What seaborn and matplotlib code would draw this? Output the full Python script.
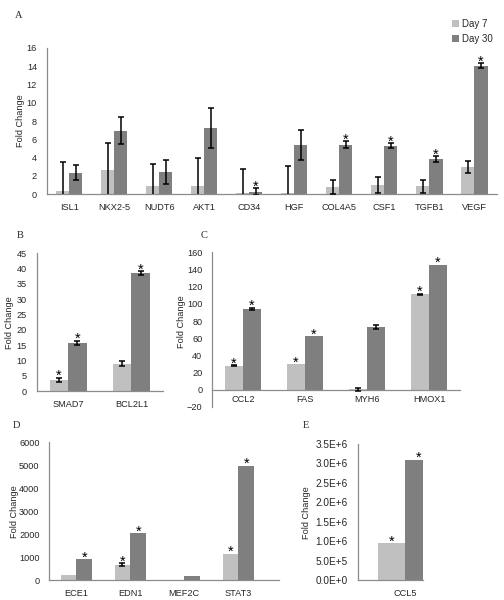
import numpy as np
import pandas as pd
import matplotlib
matplotlib.use("Agg")
import matplotlib.pyplot as plt
import seaborn as sns

# ---------------- data ----------------
days = ["Day 7", "Day 30"]

A_genes = ["ISL1", "NKX2-5", "NUDT6", "AKT1", "CD34", "HGF", "COL4A5", "CSF1", "TGFB1", "VEGF"]
A_d7 = [0.4, 2.6, 0.87, 0.87, 0.15, 0.1, 0.76, 1.02, 0.87, 2.98]
A_d7_err = [3.1, 2.95, 2.4, 3.1, 2.6, 3.0, 0.77, 0.85, 0.7, 0.7]
A_d30 = [2.36, 6.94, 2.4, 7.27, 0.3, 5.42, 5.42, 5.31, 3.82, 14.04]
A_d30_err = [0.8, 1.5, 1.3, 2.2, 0.35, 1.65, 0.35, 0.25, 0.33, 0.25]
A_d7_sig = [0, 0, 0, 0, 0, 0, 0, 0, 0, 0]
A_d30_sig = [0, 0, 0, 0, 1, 0, 1, 1, 1, 1]

B_genes = ["SMAD7", "BCL2L1"]
B_d7 = [3.7, 9.0]
B_d7_err = [0.8, 0.9]
B_d30 = [15.8, 38.6]
B_d30_err = [0.6, 0.6]
B_d7_sig = [1, 0]
B_d30_sig = [1, 1]

C_genes = ["CCL2", "FAS", "MYH6", "HMOX1"]
C_d7 = [27.9, 29.9, 0.5, 111.3]
C_d7_err = [0.6, 0.0, 1.5, 0.5]
C_d30 = [94.2, 62.4, 73.0, 145.3]
C_d30_err = [1.5, 0.0, 2.0, 0.0]
C_d7_sig = [1, 1, 0, 1]
C_d30_sig = [1, 1, 0, 1]

D_genes = ["ECE1", "EDN1", "MEF2C", "STAT3"]
D_d7 = [230, 678, 5, 1143]
D_d7_err = [0, 60, 0, 0]
D_d30 = [913, 2043, 187, 4970]
D_d30_err = [0, 0, 0, 0]
D_d7_sig = [0, 1, 0, 1]
D_d30_sig = [1, 1, 0, 1]

E_genes = ["CCL5"]
E_d7 = [0.95e6]
E_d7_err = [0]
E_d30 = [3.09e6]
E_d30_err = [0]
E_d7_sig = [1]
E_d30_sig = [1]
E_yticks = [0, 0.5e6, 1.0e6, 1.5e6, 2.0e6, 2.5e6, 3.0e6, 3.5e6]
E_yticklabels = ["0.0E+0", "5.0E+5", "1.0E+6", "1.5E+6", "2.0E+6", "2.5E+6", "3.0E+6", "3.5E+6"]

# ---------------- style ----------------
sns.set_style("white")
plt.rcParams["font.family"] = ["Liberation Sans", "DejaVu Sans"]
LIGHT = "#c0c0c0"
DARK = "#7f7f7f"
SPINE = "#8c8c8c"
TXT = "#262626"
TICK_FS = 6.6
LAB_FS = 6.6

fig = plt.figure(figsize=(5.04, 6.0), dpi=100)
W, H = 504.0, 600.0


def make_ax(left, right, top, bottom):
    return fig.add_axes([left / W, 1 - bottom / H, (right - left) / W, (bottom - top) / H])


def panel(ax, genes, d7, d7e, d30, d30e, s7, s30, width=0.58, legend=False,
          zero_spine=False, tick_fs=TICK_FS):
    df = pd.DataFrame({
        "gene": genes * 2,
        "val": list(d7) + list(d30),
        "day": [days[0]] * len(genes) + [days[1]] * len(genes),
    })
    sns.barplot(data=df, x="gene", y="val", hue="day", order=genes, hue_order=days,
                palette=[LIGHT, DARK], width=width, errorbar=None, gap=0,
                saturation=1, ax=ax, legend=legend, linewidth=0)
    if zero_spine:
        ax.spines["bottom"].set_position(("data", 0))
    for cont, errs, sigs in zip(ax.containers, [d7e, d30e], [s7, s30]):
        for bar, e, s in zip(cont, errs, sigs):
            xc = bar.get_x() + bar.get_width() / 2
            h = bar.get_height()
            if e > 0:
                ax.errorbar([xc], [h], yerr=[e], fmt="none", ecolor="black",
                            elinewidth=1.1, capsize=2.3, capthick=1.1, zorder=5)
            if s:
                ax.annotate("*", (xc, h + e), xytext=(0, -1.6), textcoords="offset points",
                            ha="center", va="baseline", fontsize=10.5, color="black", zorder=6)
    n = len(genes)
    ax.set_xlim(-0.5, n - 0.5)
    ax.set_xticks(range(n))
    ax.set_xticklabels(genes, fontsize=TICK_FS, color=TXT)
    ax.set_xticks(np.arange(-0.5, n, 1.0), minor=True)
    ax.tick_params(axis="x", which="major", length=0, pad=6, labelsize=TICK_FS, labelcolor=TXT)
    ax.tick_params(axis="x", which="minor", length=3.5, width=0.8, color=SPINE, direction="out")
    ax.tick_params(axis="y", which="major", length=3, width=0.8, color=SPINE, direction="out",
                   labelsize=tick_fs, labelcolor=TXT, pad=4)
    ax.set_xlabel("")
    ax.set_ylabel("Fold Change", fontsize=LAB_FS, color=TXT)
    for side in ["top", "right"]:
        ax.spines[side].set_visible(False)
    for side in ["left", "bottom"]:
        ax.spines[side].set_color(SPINE)
        ax.spines[side].set_linewidth(0.9)
    ax.set_facecolor("white")


# ---------------- panel A ----------------
axA = make_ax(46.7, 497, 47.7, 194.3)
panel(axA, A_genes, A_d7, A_d7_err, A_d30, A_d30_err, A_d7_sig, A_d30_sig, legend=True)
axA.set_ylim(0, 16)
axA.set_yticks(np.arange(0, 17, 2))
axA.yaxis.set_label_coords((25 - 46.7) / 450.3, 0.5)
handles, labels = axA.get_legend_handles_labels()
if axA.get_legend() is not None:
    axA.get_legend().remove()
fig.legend(handles, labels, loc="upper left", bbox_to_anchor=(452 / W, 1 - 19 / H),
           frameon=False, fontsize=7, handlelength=0.75, handleheight=0.75,
           handletextpad=0.3, labelspacing=0.5, borderaxespad=0, borderpad=0,
           labelcolor=TXT)

# ---------------- panel B ----------------
axB = make_ax(36.7, 163, 253.3, 391.3)
panel(axB, B_genes, B_d7, B_d7_err, B_d30, B_d30_err, B_d7_sig, B_d30_sig)
axB.set_ylim(0, 45)
axB.set_yticks(np.arange(0, 46, 5))
axB.yaxis.set_label_coords((14 - 36.7) / 126.3, 0.5)

# ---------------- panel C ----------------
axC = make_ax(212, 460, 252.3, 407)
panel(axC, C_genes, C_d7, C_d7_err, C_d30, C_d30_err, C_d7_sig, C_d30_sig, zero_spine=True)
axC.set_ylim(-20, 160)
axC.set_yticks(np.arange(-20, 161, 20))
axC.tick_params(axis="x", which="major", pad=4)
axC.yaxis.set_label_coords((186 - 212) / 248.0, 0.55)

# ---------------- panel D ----------------
axD = make_ax(49.3, 279.3, 442.3, 580.3)
panel(axD, D_genes, D_d7, D_d7_err, D_d30, D_d30_err, D_d7_sig, D_d30_sig)
axD.set_xlim(-0.5, -0.5 + 230.0 / 54.0)
axD.set_xticks(np.arange(-0.5, 3.0, 1.0), minor=True)
axD.set_ylim(0, 6000)
axD.set_yticks(np.arange(0, 6001, 1000))
axD.yaxis.set_label_coords((19 - 49.3) / 230.0, 0.5)

# ---------------- panel E ----------------
axE = make_ax(357.7, 423, 444, 580.3)
panel(axE, E_genes, E_d7, E_d7_err, E_d30, E_d30_err, E_d7_sig, E_d30_sig, width=0.8,
      tick_fs=7.2)
axE.set_xlim(-0.69, 0.2565)
axE.set_xticks([-0.135], minor=True)
axE.set_ylim(0, 3.5e6)
axE.set_yticks(E_yticks)
axE.set_yticklabels(E_yticklabels)
axE.yaxis.set_label_coords((311 - 357.7) / 65.3, 0.5)
for p in axE.patches:
    p.set_clip_on(True)

# ---------------- panel letters ----------------
for letter, (px, py) in zip("ABCDE", [(15, 15), (17, 236), (201, 236), (13, 425), (303, 425)]):
    fig.text(px / W, 1 - py / H, letter, fontsize=7.5, family=["Liberation Serif", "DejaVu Serif"],
             color=TXT, ha="left", va="center")

fig.savefig("out.png", dpi=100, facecolor="white")
